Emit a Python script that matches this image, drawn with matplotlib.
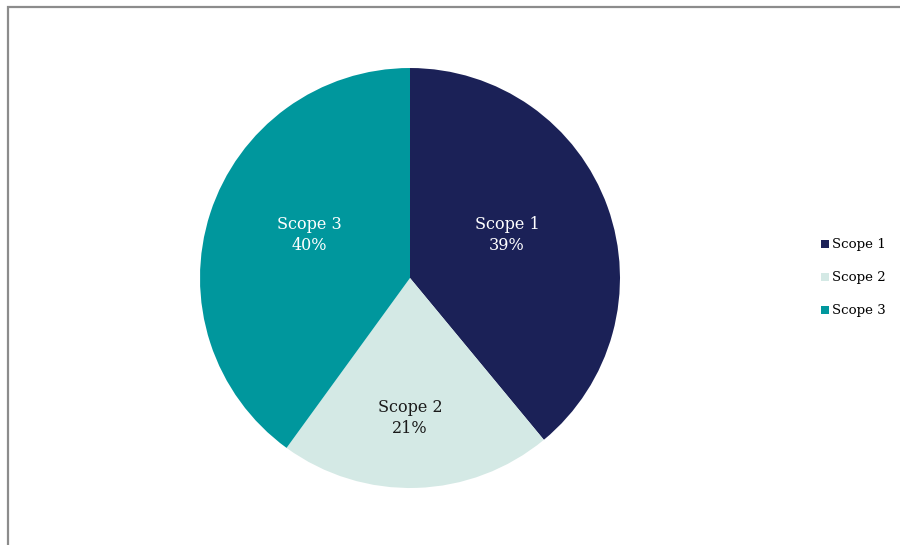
import numpy as np
import matplotlib.pyplot as plt
from matplotlib.patches import Rectangle

labels = ["Scope 1", "Scope 2", "Scope 3"]
shares = [39, 21, 40]
colors = ["#1b2157", "#d4e9e5", "#00979d"]
text_colors = ["white", "#1a1a1a", "white"]
label_dist = [0.505, 0.667, 0.52]
label_shift = [4.1, -1.8, -5.3]  # degrees, best-fit nudges

plt.rcParams['font.family'] = ['DejaVu Serif']

fig = plt.figure(figsize=(9, 5.45), dpi=100)
# chart frame, cut off on the right and bottom
fig.patches.append(Rectangle((7.5 / 900, -0.1), 1.2, 1 - 6.5 / 545 + 0.1,
                             transform=fig.transFigure, fill=False,
                             edgecolor="#8c8c8c", linewidth=1.6))

ax = fig.add_axes([0.2222, 0.1046, 0.4667, 0.7706])
wedges, _ = ax.pie(shares, colors=colors, startangle=90, counterclock=False,
                   radius=1.0)
ax.set_xlim(-1, 1)
ax.set_ylim(-1, 1)
ax.set_aspect("equal")

for w, lab, val, tc, d, s in zip(wedges, labels, shares, text_colors,
                                 label_dist, label_shift):
    mid = np.deg2rad((w.theta1 + w.theta2) / 2 + s)
    ax.text(d * np.cos(mid), d * np.sin(mid), f"{lab}\n{val}%", ha="center",
            va="center", color=tc, fontsize=11.5, linespacing=1.3)

leg = fig.legend(wedges, labels, loc="center left", bbox_to_anchor=(0.899, 0.49),
                 frameon=False, fontsize=9.6, handlelength=0.6, handleheight=0.6,
                 handletextpad=0.25, labelspacing=1.5)

fig.savefig("out.png", dpi=100)
